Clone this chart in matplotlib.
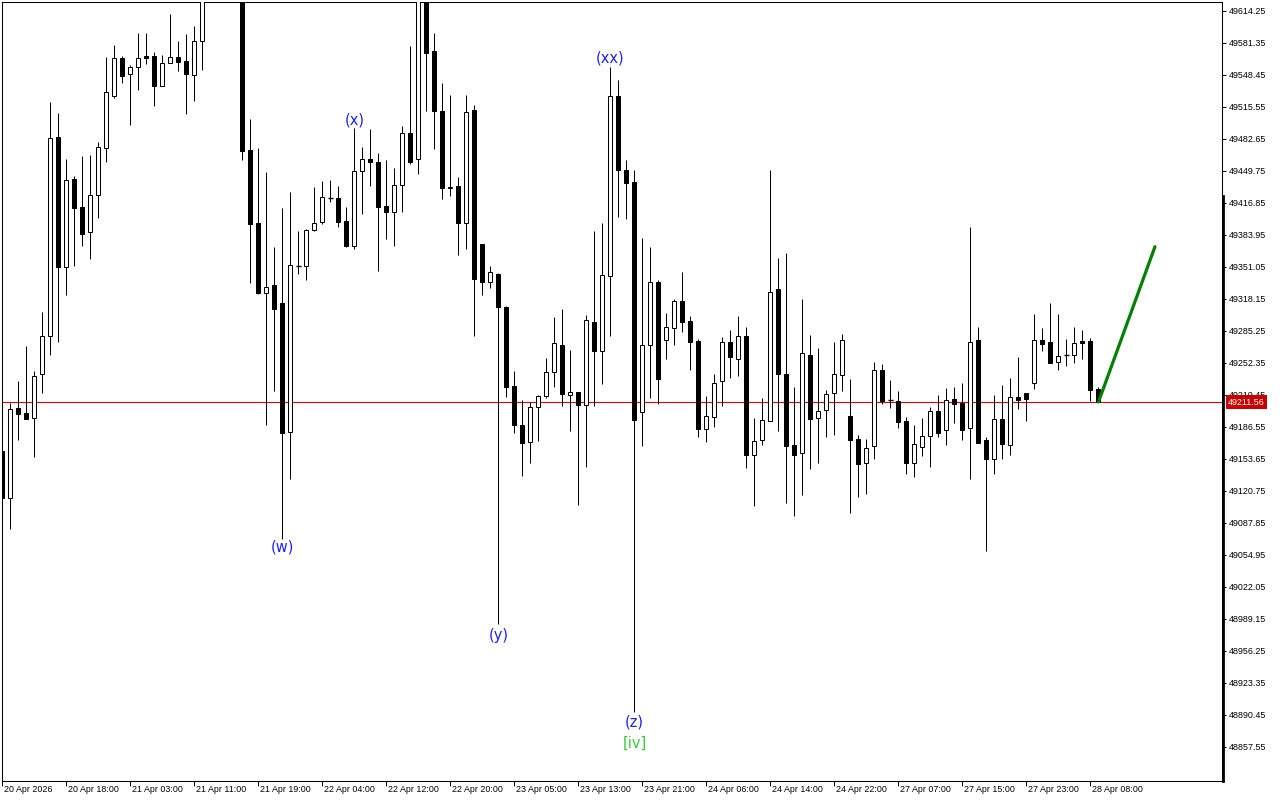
import matplotlib
matplotlib.use("Agg")
import matplotlib.pyplot as plt
from matplotlib.lines import Line2D
from matplotlib.transforms import ScaledTranslation, blended_transform_factory

# hourly OHLC (bars 26-29 sit above the visible range)
opens = [
    49161.4, 49113.5, 49205.6, 49200.4, 49195.3, 49240.2, 49279.9, 49484.2, 49350.7, 49440.7,
    49412.2, 49386.7, 49424.2, 49473.4, 49526.7, 49565.5, 49548.7, 49556.2, 49567.5, 49567.1,
    49536.9, 49560.1, 49566.4, 49561.9, 49547.5, 49582.5, 49640.0, 49665.0, 49650.0, 49676.0,
    49655.0, 49470.8, 49395.9, 49323.8, 49332.0, 49313.6, 49180.9, 49351.2, 49351.2, 49388.2,
    49397.0, 49421.6, 49421.6, 49397.4, 49372.4, 49448.8, 49461.3, 49458.0, 49413.3, 49407.3,
    49435.3, 49488.8, 49461.6, 49638.0, 49572.7, 49510.9, 49431.3, 49433.8, 49395.8, 49512.2,
    49374.2, 49335.1, 49343.3, 49309.7, 49228.2, 49188.1, 49170.6, 49206.6, 49217.5, 49242.3,
    49270.8, 49218.9, 49222.5, 49208.6, 49294.1, 49263.9, 49341.0, 49526.4, 49450.3, 49437.9,
    49201.2, 49270.0, 49334.8, 49275.2, 49287.5, 49315.6, 49294.7, 49274.5, 49183.7, 49196.0,
    49233.0, 49273.1, 49255.6, 49279.3, 49157.0, 49172.4, 49191.9, 49327.6, 49240.2, 49167.5,
    49159.0, 49259.8, 49195.0, 49203.2, 49220.7, 49239.2, 49197.1, 49173.4, 49148.7, 49166.2,
    49244.3, 49213.5, 49212.5, 49192.2, 49149.3, 49165.2, 49176.5, 49202.2, 49182.6, 49214.5,
    49210.7, 49184.7, 49275.2, 49172.4, 49152.8, 49193.9, 49167.2, 49216.6, 49220.7, 49231.0,
    49275.2, 49273.1, 49252.6, 49259.8, 49259.8, 49274.1, 49274.1, 49224.8,
]
highs = [
    49163.4, 49211.2, 49233.3, 49268.9, 49243.6, 49303.8, 49519.7, 49508.9, 49461.6, 49444.1,
    49464.7, 49465.7, 49479.1, 49566.4, 49578.8, 49567.5, 49558.2, 49591.1, 49591.1, 49571.6,
    49568.5, 49610.6, 49582.9, 49590.1, 49598.3, 49655.9, 49672.0, 49690.0, 49685.0, 49695.0,
    49670.0, 49502.7, 49473.0, 49448.2, 49370.6, 49411.7, 49427.7, 49387.6, 49390.0, 49432.3,
    49439.0, 49440.0, 49433.8, 49412.2, 49493.5, 49473.9, 49492.4, 49467.8, 49460.5, 49452.4,
    49495.5, 49578.1, 49650.8, 49660.0, 49591.1, 49539.7, 49526.9, 49443.3, 49527.4, 49516.7,
    49374.2, 49352.0, 49344.4, 49310.6, 49244.1, 49214.2, 49211.9, 49219.4, 49257.0, 49299.1,
    49307.4, 49265.2, 49222.5, 49301.2, 49387.8, 49395.8, 49556.2, 49543.3, 49460.5, 49450.7,
    49380.0, 49371.1, 49336.9, 49303.3, 49317.6, 49345.4, 49300.2, 49276.5, 49217.9, 49240.5,
    49278.6, 49285.5, 49300.2, 49288.9, 49195.3, 49215.9, 49450.3, 49359.8, 49364.9, 49227.2,
    49317.6, 49280.6, 49267.3, 49224.1, 49273.4, 49282.0, 49235.4, 49177.8, 49173.4, 49252.9,
    49250.5, 49234.4, 49223.0, 49196.3, 49187.8, 49195.3, 49206.6, 49218.9, 49226.2, 49227.2,
    49231.3, 49391.4, 49288.5, 49175.5, 49218.9, 49229.2, 49236.1, 49258.0, 49220.7, 49302.2,
    49287.5, 49313.2, 49302.2, 49276.2, 49288.5, 49285.5, 49277.2, 49226.9,
]
lows = [
    49112.0, 49081.6, 49172.7, 49194.3, 49154.7, 49221.5, 49260.5, 49273.6, 49322.2, 49351.6,
    49372.4, 49359.2, 49401.4, 49458.7, 49524.3, 49540.2, 49496.9, 49532.9, 49559.7, 49516.0,
    49536.6, 49559.8, 49552.4, 49508.3, 49521.2, 49553.5, 49628.0, 49645.0, 49632.0, 49640.0,
    49461.0, 49334.2, 49322.8, 49188.1, 49223.0, 49070.9, 49133.0, 49343.8, 49336.8, 49388.0,
    49395.2, 49416.9, 49391.2, 49370.6, 49368.7, 49404.7, 49434.1, 49346.7, 49379.0, 49371.7,
    49407.3, 49456.8, 49446.2, 49511.2, 49472.2, 49420.8, 49423.1, 49362.5, 49369.4, 49279.9,
    49322.2, 49329.0, 48983.5, 49216.6, 49179.9, 49135.4, 49149.5, 49172.0, 49216.1, 49227.2,
    49207.3, 49181.9, 49105.4, 49144.5, 49207.3, 49230.3, 49279.4, 49401.9, 49400.2, 48893.0,
    49166.8, 49216.2, 49209.4, 49256.0, 49270.7, 49284.0, 49245.0, 49175.5, 49170.9, 49186.3,
    49207.3, 49236.7, 49238.8, 49143.6, 49105.1, 49167.9, 49191.9, 49182.2, 49108.2, 49094.8,
    49116.4, 49143.2, 49148.7, 49176.1, 49178.1, 49223.4, 49097.9, 49114.4, 49117.5, 49153.5,
    49210.0, 49205.9, 49185.3, 49138.0, 49135.0, 49156.6, 49145.2, 49176.1, 49167.9, 49190.5,
    49173.0, 49132.9, 49169.9, 49058.9, 49138.0, 49153.5, 49157.0, 49204.2, 49192.5, 49225.4,
    49264.5, 49251.5, 49244.6, 49248.8, 49252.2, 49256.0, 49213.1, 49211.56,
]
closes = [
    49113.0, 49204.5, 49199.8, 49194.7, 49238.5, 49279.2, 49483.0, 49350.7, 49439.6, 49411.7,
    49384.9, 49424.2, 49473.9, 49530.0, 49565.2, 49547.2, 49556.2, 49565.9, 49565.9, 49536.9,
    49560.1, 49566.4, 49560.8, 49549.4, 49582.5, 49640.5, 49665.0, 49650.0, 49676.0, 49655.0,
    49470.1, 49394.8, 49323.9, 49330.0, 49307.4, 49180.0, 49352.2, 49350.5, 49388.6, 49396.3,
    49422.5, 49421.9, 49397.0, 49372.4, 49448.8, 49461.3, 49458.0, 49412.2, 49407.3, 49434.4,
    49488.8, 49458.7, 49640.5, 49570.9, 49511.2, 49431.3, 49433.2, 49395.8, 49509.9, 49337.7,
    49335.4, 49345.5, 49309.7, 49227.6, 49188.1, 49169.3, 49206.6, 49217.9, 49242.7, 49272.1,
    49220.2, 49222.5, 49208.6, 49296.5, 49263.9, 49341.9, 49526.4, 49450.7, 49437.4, 49193.7,
    49270.0, 49334.8, 49235.7, 49288.5, 49315.6, 49294.3, 49273.7, 49183.7, 49197.1, 49231.0,
    49273.1, 49257.7, 49279.3, 49157.0, 49171.4, 49193.0, 49324.5, 49240.2, 49166.8, 49157.0,
    49261.8, 49194.6, 49202.2, 49219.6, 49240.2, 49275.2, 49172.4, 49147.7, 49164.1, 49244.3,
    49213.1, 49213.5, 49191.5, 49149.3, 49168.2, 49176.5, 49202.2, 49180.2, 49213.5, 49210.0,
    49183.3, 49273.1, 49169.9, 49152.8, 49193.9, 49168.2, 49216.6, 49214.1, 49215.1, 49275.2,
    49271.7, 49252.2, 49258.7, 49259.8, 49272.1, 49272.7, 49224.4, 49211.56,
]

last_price = 49211.56

date_ticks = [0, 8, 16, 24, 32, 40, 48, 56, 64, 72, 80, 88, 96, 104, 112, 120, 128, 136]
date_labels = [
    "20 Apr 2026", "20 Apr 18:00", "21 Apr 03:00", "21 Apr 11:00", "21 Apr 19:00",
    "22 Apr 04:00", "22 Apr 12:00", "22 Apr 20:00", "23 Apr 05:00", "23 Apr 13:00",
    "23 Apr 21:00", "24 Apr 06:00", "24 Apr 14:00", "24 Apr 22:00", "27 Apr 07:00",
    "27 Apr 15:00", "27 Apr 23:00", "28 Apr 08:00",
]
price_ticks = [
    49614.25, 49581.35, 49548.45, 49515.55, 49482.65, 49449.75, 49416.85, 49383.95,
    49351.05, 49318.15, 49285.25, 49252.35, 49219.45, 49186.55, 49153.65, 49120.75,
    49087.85, 49054.95, 49022.05, 48989.15, 48956.25, 48923.35, 48890.45, 48857.55,
]

# wave labels: text, bar index, anchored at bar high or low
wave_text = ["(w)", "(x)", "(y)", "(xx)", "(z)", "[iv]"]
wave_bar = [35, 44, 62, 76, 79, 79]
wave_side = ["low", "high", "low", "high", "low", "low"]

# projected move
target_x = [137.0, 144.06]
target_y = [49211.8, 49371.4]

W, H = 1280, 800
fig = plt.figure(figsize=(W / 100, H / 100), dpi=100)
fig.patch.set_facecolor("white")
ax = fig.add_axes([2 / W, 19 / H, 1220 / W, 779 / H])

n = len(opens)
xs = list(range(n))
lw_px = 0.72

# wicks
ax.vlines(xs, lows, highs, color="black", linewidth=lw_px, zorder=2)

# bodies
body_w = 0.5
for i, (o, c) in enumerate(zip(opens, closes)):
    face = "white" if c >= o else "black"
    if abs(c - o) < 0.8:
        ax.hlines(o, i - body_w / 2 - 0.06, i + body_w / 2 + 0.06,
                  color="black", linewidth=lw_px * 1.4, zorder=3)
    else:
        ax.bar(i, abs(c - o), bottom=min(o, c), width=body_w, facecolor=face,
               edgecolor="black", linewidth=lw_px, zorder=3)

ax.axhline(last_price, color="#e00000", linewidth=0.8, zorder=1)
ax.plot(target_x, target_y, color="#008000", linewidth=2.3, zorder=4,
        solid_capstyle="round")

offsets = {"(w)": -8, "(x)": 8, "(y)": -11, "(xx)": 9, "(z)": -10, "[iv]": -31}
for txt, b, side in zip(wave_text, wave_bar, wave_side):
    y = highs[b] if side == "high" else lows[b]
    col = "#3cc83c" if txt.startswith("[") else "#1e1eff"
    ax.annotate(txt, xy=(b, y), xytext=(0, offsets[txt]), textcoords="offset pixels",
                ha="center", va="center", fontsize=10.5, color=col,
                family="DejaVu Sans", zorder=5)

ax.set_xlim(-0.0625, 152.44)
ax.set_ylim(48822.1, 49623.0)

for s in ax.spines.values():
    s.set_color("black")
    s.set_linewidth(0.75)

axis_font = "Liberation Sans"
ax.yaxis.tick_right()
ax.set_yticks(price_ticks)
ax.set_yticklabels([f"{v:.2f}" for v in price_ticks], fontsize=6.4, family=axis_font)
ax.tick_params(axis="y", length=3, width=0.75, pad=2, direction="out")

ax.set_xticks(date_ticks)
ax.set_xticklabels(date_labels, ha="left", fontsize=6.4, family=axis_font)
ax.tick_params(axis="x", length=3.5, width=0.75, pad=-0.6, direction="out")
shift = ScaledTranslation(2 / 100, 0, fig.dpi_scale_trans)
for lbl in ax.get_xticklabels():
    lbl.set_transform(lbl.get_transform() + shift)

# current price tag on the price scale
trans = blended_transform_factory(ax.transAxes, ax.transData)
ax.text(1 + 6 / 1220, last_price, "49211.56", transform=trans, ha="left", va="center",
        fontsize=6.4, family=axis_font, color="white", clip_on=False, zorder=6,
        bbox=dict(boxstyle="square,pad=0.28", facecolor="#c80000", edgecolor="none"))

# thick lower part of the right border
fig.add_artist(Line2D([1222.6 / W, 1222.6 / W], [(H - 196) / H, 19 / H],
                      transform=fig.transFigure, color="black", linewidth=2.0))

fig.savefig("out.png", dpi=100, facecolor="white")
